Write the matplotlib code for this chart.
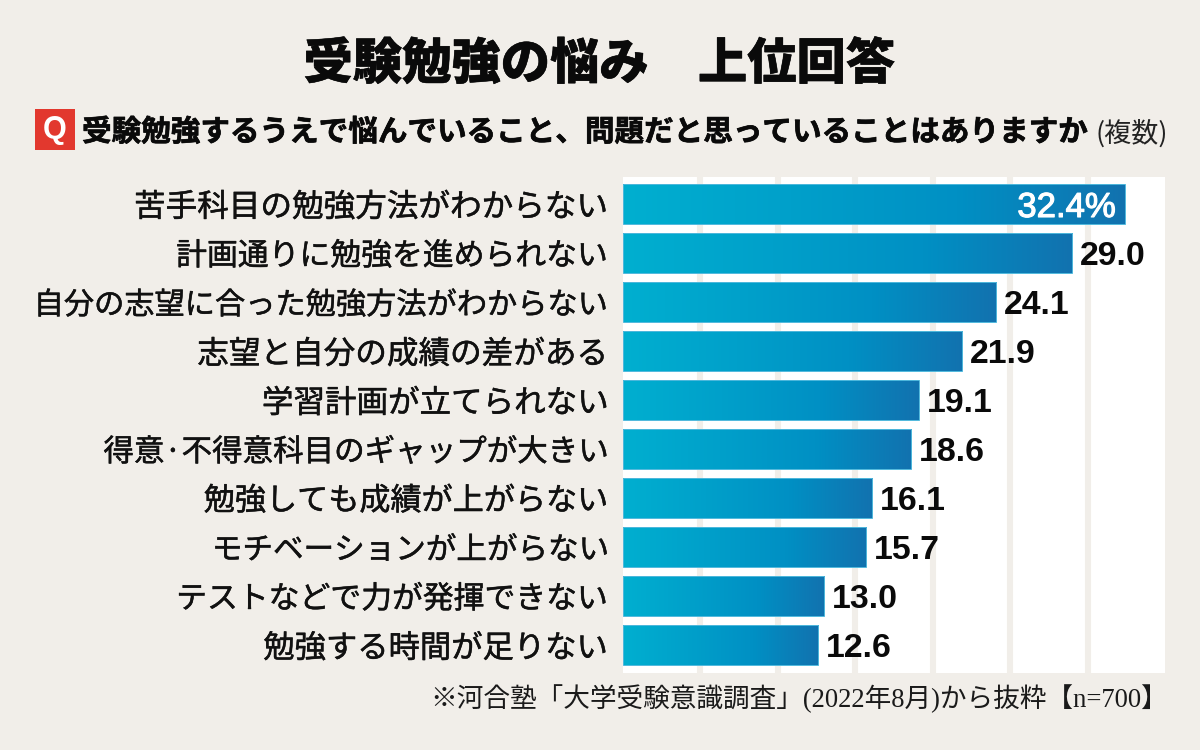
import numpy as np
import matplotlib
matplotlib.use("Agg")
import matplotlib.pyplot as plt
import matplotlib.patheffects as pe
from matplotlib.colors import LinearSegmentedColormap
from matplotlib.patches import Rectangle

categories = ["苦手科目の勉強方法がわからない", "計画通りに勉強を進められない",
              "自分の志望に合った勉強方法がわからない", "志望と自分の成績の差がある",
              "学習計画が立てられない", "得意·不得意科目のギャップが大きい",
              "勉強しても成績が上がらない", "モチベーションが上がらない",
              "テストなどで力が発揮できない", "勉強する時間が足りない"]
values = [32.4, 29.0, 24.1, 21.9, 19.1, 18.6, 16.1, 15.7, 13.0, 12.6]
value_labels = ["32.4%", "29.0", "24.1", "21.9", "19.1", "18.6", "16.1", "15.7", "13.0", "12.6"]
grid_ticks = [5, 10, 15, 20, 25, 30]
title = "受験勉強の悩み　上位回答"
question = "受験勉強するうえで悩んでいること、問題だと思っていることはありますか"
question_note = "(複数)"
footer = "※河合塾「大学受験意識調査」(2022年8月)から抜粋【n=700】"

# per-label type size, to follow the tight setting of the original
label_sizes = [22.75, 22.2, 21.76, 22.75, 22.7, 21.97, 22.4, 22.0, 22.2, 22.55]

BG = "#F1EEE9"
JP = ["Noto Sans CJK JP", "DejaVu Sans"]
W, H = 1200, 750
plt.rcParams["font.family"] = JP

fig = plt.figure(figsize=(W / 100, H / 100), dpi=100, facecolor=BG)
L, R, T, B = 623, 1165, 177, 673
ax = fig.add_axes([L / W, 1 - B / H, (R - L) / W, (B - T) / H], facecolor="white")
ax.set_xlim(0, 35)
ax.set_ylim(9.571, -0.551)
for s in ax.spines.values():
    s.set_visible(False)
ax.set_xticks(grid_ticks)
ax.set_xticklabels([])
ax.tick_params(axis="x", length=0)
ax.grid(axis="x", color=BG, linewidth=4.4, zorder=1)
ax.set_axisbelow(True)

y = np.arange(len(categories))
ax.set_yticks(y)
ax.set_yticklabels(categories, color="#111111")
ax.tick_params(axis="y", length=0, pad=10.5)
for t, fs in zip(ax.get_yticklabels(), label_sizes):
    t.set_fontsize(fs)
    t.set_path_effects([pe.withStroke(linewidth=0.35, foreground="#111111")])

cmap = LinearSegmentedColormap.from_list("bar", ["#00AFD0", "#00A0CA", "#0090C4", "#1272AF"])
grad = np.linspace(0, 1, 256).reshape(1, -1)
h = 0.816
for yi, v, lab in zip(y, values, value_labels):
    ax.imshow(grad, extent=(0, v, yi + h / 2, yi - h / 2), cmap=cmap, aspect="auto",
              zorder=3, interpolation="bilinear")
    ax.add_patch(Rectangle((0, yi - h / 2), v, h, fill=False, ec="#4FB8DC", lw=0.7, zorder=4))
    if lab.endswith("%"):
        ax.annotate(lab, (v, yi), xytext=(-6.5, 0), textcoords="offset points", ha="right",
                    va="center_baseline", fontsize=25, color="white",
                    family=["Liberation Sans"], zorder=5,
                    path_effects=[pe.withStroke(linewidth=0.8, foreground="white")])
    else:
        ax.annotate(lab, (v, yi), xytext=(5.5, 0), textcoords="offset points", ha="left",
                    va="center_baseline", fontsize=24.4, color="#0a0a0a", fontweight="bold",
                    family=["Liberation Sans"], zorder=5)
ax.set_xlim(0, 35)
ax.set_ylim(9.571, -0.551)

fig.text(599 / W, 1 - 64 / H, title, ha="center", va="center", fontsize=35.5,
         fontweight="black", color="#0a0a0a",
         path_effects=[pe.withStroke(linewidth=0.4, foreground="#0a0a0a")])
fig.add_artist(Rectangle((35 / W, 1 - 150 / H), 40 / W, 41 / H, transform=fig.transFigure,
                         fc="#E2382E", ec="none"))
fig.text(55 / W, 1 - 130 / H, "Q", ha="center", va="center", fontsize=22, fontweight="bold",
         color="white", family=["Liberation Sans"])
fig.text(82 / W, 1 - 132 / H, question, ha="left", va="center", fontsize=21.3,
         fontweight="bold", color="#0a0a0a",
         path_effects=[pe.withStroke(linewidth=0.5, foreground="#0a0a0a")])
fig.text(1168 / W, 1 - 134 / H, question_note, ha="right", va="center", fontsize=19.5,
         color="#222222")
fig.text(1168 / W, 1 - 699 / H, footer, ha="right", va="center", fontsize=19.2, color="#1a1a1a",
         family=["Liberation Serif", "Noto Sans CJK JP"])

fig.savefig("out.png", dpi=100, facecolor=BG)
